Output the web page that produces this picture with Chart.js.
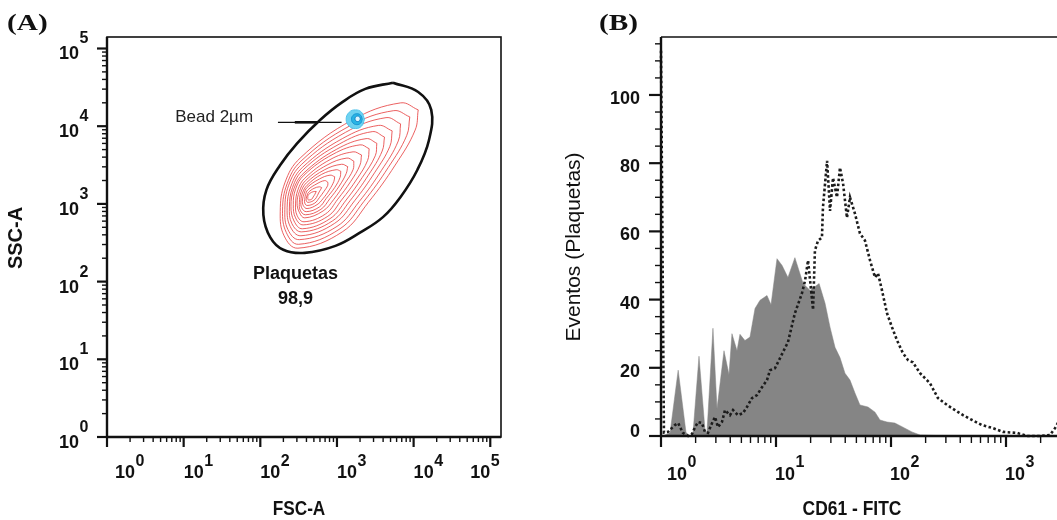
<!DOCTYPE html>
<html>
<head>
<meta charset="utf-8">
<script src="https://cdn.jsdelivr.net/npm/chart.js@4.4.0/dist/chart.umd.min.js"></script>
<style>
  html, body { margin: 0; padding: 0; background: #fff; overflow: hidden; width: 1057px; height: 520px; }
  canvas { position: absolute; top: 0; }
  .tag { position: absolute; top: 10px; font: bold 24px "Liberation Serif", "Times New Roman", serif;
         line-height: 1; color: #111; transform: scaleX(1.22); transform-origin: 0 0; }
</style>
</head>
<body>
<canvas id="scatter" width="530" height="520" style="left:0"></canvas>
<canvas id="hist" width="540" height="520" style="left:530px"></canvas>
<div class="tag" style="left:7px">(A)</div>
<div class="tag" style="left:599px">(B)</div>
<script>
// ---------- (A) FSC-A / SSC-A contour plot, values in log10 units ----------
const decadesA = [0, 1, 2, 3, 4, 5];

// black gate "Plaquetas"
const gateFSC = [3.73, 4.06, 4.23, 4.20, 4.05, 3.83, 3.60, 3.30, 2.98, 2.58, 2.30, 2.13, 2.04, 2.08, 2.26, 2.48, 2.78, 3.07, 3.37];
const gateSSC = [4.56, 4.44, 4.21, 3.82, 3.44, 3.09, 2.83, 2.63, 2.46, 2.37, 2.41, 2.57, 2.86, 3.18, 3.50, 3.78, 4.08, 4.31, 4.48];

// red density contours, outermost first
const plateletContours = [
  [[4.06,4.21],[3.83,4.30],[3.20,4.08],[2.52,3.59],[2.32,3.27],[2.26,2.90],[2.31,2.59],[2.49,2.43],[3.07,2.64],[3.41,3.02],[3.76,3.50],[4.02,3.95]],
  [[3.95,4.12],[3.74,4.20],[3.16,4.00],[2.53,3.55],[2.35,3.26],[2.29,2.92],[2.34,2.63],[2.50,2.48],[3.04,2.68],[3.35,3.03],[3.67,3.47],[3.91,3.88]],
  [[3.83,4.03],[3.64,4.11],[3.11,3.92],[2.54,3.51],[2.37,3.24],[2.32,2.93],[2.36,2.67],[2.51,2.54],[3.00,2.71],[3.29,3.03],[3.58,3.43],[3.80,3.81]],
  [[3.72,3.94],[3.54,4.01],[3.07,3.84],[2.55,3.47],[2.40,3.23],[2.35,2.95],[2.39,2.71],[2.53,2.59],[2.97,2.75],[3.23,3.04],[3.49,3.40],[3.69,3.74]],
  [[3.62,3.86],[3.46,3.93],[3.03,3.77],[2.56,3.44],[2.42,3.21],[2.38,2.96],[2.41,2.75],[2.54,2.64],[2.94,2.78],[3.17,3.04],[3.41,3.37],[3.59,3.68]],
  [[3.52,3.78],[3.38,3.84],[2.99,3.70],[2.57,3.40],[2.44,3.20],[2.40,2.97],[2.44,2.78],[2.55,2.68],[2.91,2.81],[3.12,3.05],[3.33,3.34],[3.50,3.62]],
  [[3.42,3.71],[3.30,3.76],[2.95,3.64],[2.57,3.37],[2.46,3.19],[2.43,2.99],[2.46,2.82],[2.56,2.73],[2.88,2.84],[3.06,3.05],[3.26,3.32],[3.40,3.56]],
  [[3.32,3.63],[3.21,3.67],[2.91,3.57],[2.58,3.33],[2.49,3.18],[2.46,3.00],[2.48,2.85],[2.57,2.77],[2.85,2.87],[3.01,3.06],[3.18,3.29],[3.30,3.50]],
  [[3.22,3.55],[3.13,3.59],[2.87,3.50],[2.59,3.30],[2.51,3.16],[2.48,3.01],[2.51,2.89],[2.58,2.82],[2.82,2.91],[2.96,3.06],[3.10,3.26],[3.21,3.44]],
  [[3.14,3.48],[3.06,3.51],[2.84,3.44],[2.60,3.27],[2.53,3.15],[2.51,3.02],[2.52,2.92],[2.59,2.86],[2.79,2.93],[2.91,3.07],[3.03,3.23],[3.12,3.39]],
  [[3.05,3.42],[2.99,3.44],[2.80,3.38],[2.61,3.24],[2.55,3.14],[2.53,3.04],[2.54,2.95],[2.60,2.90],[2.77,2.96],[2.86,3.07],[2.97,3.21],[3.04,3.34]],
  [[2.97,3.35],[2.91,3.37],[2.77,3.32],[2.61,3.21],[2.57,3.13],[2.55,3.05],[2.56,2.98],[2.61,2.94],[2.74,2.99],[2.82,3.07],[2.90,3.18],[2.96,3.29]],
  [[2.88,3.28],[2.84,3.30],[2.74,3.26],[2.62,3.18],[2.59,3.12],[2.58,3.06],[2.58,3.01],[2.61,2.98],[2.71,3.01],[2.77,3.08],[2.83,3.16],[2.88,3.24]],
  [[2.80,3.21],[2.77,3.22],[2.70,3.20],[2.63,3.15],[2.61,3.11],[2.60,3.07],[2.60,3.04],[2.62,3.02],[2.69,3.04],[2.73,3.08],[2.76,3.14],[2.79,3.19]],
  [[2.73,3.16],[2.71,3.16],[2.67,3.15],[2.63,3.12],[2.62,3.10],[2.62,3.08],[2.62,3.06],[2.63,3.05],[2.67,3.06],[2.69,3.09],[2.71,3.12],[2.72,3.14]]
];

// cyan 2 µm bead population, outer ring first
const beadContours = [
  [[3.36,4.09],[3.32,4.18],[3.24,4.21],[3.16,4.18],[3.12,4.09],[3.16,4.00],[3.24,3.97],[3.32,4.00]],
  [[3.33,4.09],[3.31,4.14],[3.26,4.16],[3.21,4.14],[3.19,4.09],[3.21,4.04],[3.26,4.02],[3.31,4.04]],
  [[3.305,4.095],[3.295,4.12],[3.27,4.13],[3.245,4.12],[3.235,4.095],[3.245,4.07],[3.27,4.06],[3.295,4.07]]
];

// ---------- (B) CD61-FITC histogram ----------
const decadesB = [0, 1, 2, 3];
const countTicks = [0, 20, 40, 60, 80, 100];

// filled grey: control
const isoFluor = [1.04,1.20,1.41,1.65,1.79,1.90,2.14,2.41,2.51,2.83,3.07,3.53,3.90,4.14,4.58,4.86,5.37,5.94,6.57,7.26,8.35,9.05,10.2,11.3,12.7,14.6,17.2,19.8,23.7,26.7,29.5,32.6,36.0,39.8,44.0,48.6,53.7,63.1,72.6,80.2,92.3,108,127,152,179,326,3162];
const isoCount = [0,1,19.3,1,0,1,23.4,2,1,31.6,8,25,18,30,25,29.8,28,29,37.4,39.8,41.2,38.5,52,50,46.5,52.3,44.7,42.7,44.7,38.9,31.9,26,23,18.4,16.4,12.6,9.1,8.5,7,4.7,4.1,3.8,2.6,1.2,0.3,0,0];

// dotted: CD61 stained platelets
const cd61Fluor = [1.00,1.06,1.15,1.32,1.41,1.55,1.72,1.86,1.98,2.10,2.27,2.41,2.56,2.78,2.95,3.13,3.39,3.60,3.98,4.23,4.67,5.16,5.59,6.18,6.84,7.55,8.35,8.87,9.80,10.4,11.5,12.7,14.6,16.8,17.9,19.0,21.0,21.8,23.2,25.1,25.6,27.8,29.5,31.3,33.9,36.0,38.3,41.4,44.0,48.6,53.7,59.4,65.7,72.6,77.1,83.5,92.3,102,113,127,141,155,179,218,256,307,360,423,506,618,771,942,1247,1523,1976,2414,2667,3070];
const cd61Count = [113,1,1.2,3.2,3.8,0.9,0,0.6,2.6,4.1,3.8,1.2,0.9,3.8,5.6,2.6,4.1,7.6,6.1,7.6,6.1,6.7,8.5,11.1,12,14.3,16.4,19.3,19.9,21.6,24.6,27.5,36,41.8,45.6,51.5,37,54.4,57.3,58.2,67,80.7,66,75.7,70,78.7,74,64,70,65.2,59.4,57.3,51.5,46.5,47.7,42.7,36,31.9,28,24.3,22.2,21.6,18.4,15.5,11.1,9.1,7.6,6.1,4.7,3.2,2.3,1.2,0.9,0,0,0.3,2.3,6];

// ---------- helpers ----------
const SANS = '"Liberation Sans", Arial, Helvetica, sans-serif';
const INK = '#111';
const minorSteps = [2, 3, 4, 5, 6, 7, 8, 9];

const zip = (xs, ys) => xs.map((x, i) => ({ x, y: ys[i] }));
const ring = pts => pts.concat([pts[0]]).map(([x, y]) => ({ x, y }));

function seg(ctx, x1, y1, x2, y2, w) {
  ctx.lineWidth = w;
  ctx.beginPath(); ctx.moveTo(x1, y1); ctx.lineTo(x2, y2); ctx.stroke();
}

// text centred on its cap height; sx squeezes horizontally
function label(ctx, s, x, y, size, weight, align, sx, rot) {
  ctx.save();
  ctx.translate(x, y);
  if (rot) ctx.rotate(rot);
  ctx.scale(sx || 1, 1);
  ctx.font = `${weight} ${size}px ${SANS}`;
  ctx.textAlign = align;
  ctx.textBaseline = 'alphabetic';
  ctx.fillText(s, 0, size * 0.358);
  ctx.restore();
}

// "10" with raised exponent; left = x position of the "10"
function power(ctx, exp, left, base, rise) {
  ctx.textAlign = 'left';
  ctx.textBaseline = 'alphabetic';
  ctx.font = `bold 18px ${SANS}`;
  const w = ctx.measureText('10').width;
  ctx.fillText('10', left, base);
  ctx.font = `bold 16px ${SANS}`;
  ctx.fillText(String(exp), left + w + 0.5, base - rise);
}
function powerWidths(ctx, exp) {
  ctx.font = `bold 18px ${SANS}`;
  const a = ctx.measureText('10').width;
  ctx.font = `bold 16px ${SANS}`;
  return [a, ctx.measureText(String(exp)).width];
}

const baseOpts = (pad, xs, ys) => ({
  responsive: false,
  animation: false,
  events: [],
  layout: { padding: pad },
  plugins: { legend: { display: false }, tooltip: { enabled: false } },
  elements: { point: { radius: 0 } },
  scales: { x: xs, y: ys }
});

// ---------- (A) ----------
const notesA = {
  bead: { text: 'Bead 2\u00b5m', x: 0.89, y: 4.13 },
  leader: { x1: 2.23, x2: 3.06, y: 4.05, thickFrom: 2.45, thickTo: 2.75 },
  gate: { name: 'Plaquetas', value: '98,9', x: 2.46, y1: 2.12, y2: 1.80 }
};

const axesA = {
  id: 'axesA',
  afterDatasetsDraw(chart) {
    const { ctx, chartArea: a, scales: { x, y } } = chart;
    ctx.save();
    ctx.strokeStyle = INK; ctx.fillStyle = INK;
    ctx.lineWidth = 1.6;
    ctx.strokeRect(a.left, a.top, a.right - a.left, a.bottom - a.top);
    seg(ctx, a.left, a.top, a.left, a.bottom + 1, 2.4);
    seg(ctx, a.left - 1, a.bottom, a.right, a.bottom, 2.4);

    decadesA.forEach(n => {
      const px = x.getPixelForValue(n), py = y.getPixelForValue(n);
      seg(ctx, px, a.bottom, px, a.bottom + 10, 2.2);
      seg(ctx, a.left - 10, py, a.left, py, 2.2);
      minorSteps.forEach(k => {
        const v = n + Math.log10(k);
        if (v <= x.max) { const mx = x.getPixelForValue(v); seg(ctx, mx, a.bottom, mx, a.bottom + 5, 1.4); }
        if (v <= y.max) { const my = y.getPixelForValue(v); seg(ctx, a.left - 5, my, a.left, my, 1.4); }
      });
      // tick labels
      const [wb, we] = powerWidths(ctx, n);
      let lx = px;
      if (n === decadesA[0]) lx = px + 8;
      if (n === decadesA[decadesA.length - 1]) lx = px - wb;
      power(ctx, n, lx, a.bottom + 41, 12);
      power(ctx, n, a.left - 19 - wb - we, py + 11, 16);
    });

    label(ctx, 'SSC-A', 15, 238, 20, 'bold', 'center', 1, -Math.PI / 2);
    label(ctx, 'FSC-A', 299, 507, 21, 'bold', 'center', 0.82);

    // annotations
    const b = notesA.bead;
    ctx.font = `17px ${SANS}`; ctx.textAlign = 'left'; ctx.fillStyle = '#222';
    ctx.fillText(b.text, x.getPixelForValue(b.x), y.getPixelForValue(b.y) + 6);
    const l = notesA.leader, ly = y.getPixelForValue(l.y);
    ctx.strokeStyle = '#111';
    seg(ctx, x.getPixelForValue(l.x1), ly, x.getPixelForValue(l.x2), ly, 1.3);
    seg(ctx, x.getPixelForValue(l.thickFrom), ly, x.getPixelForValue(l.thickTo), ly, 2.6);
    const g = notesA.gate, gx = x.getPixelForValue(g.x);
    ctx.fillStyle = INK;
    label(ctx, g.name, gx, y.getPixelForValue(g.y1), 18, 'bold', 'center');
    label(ctx, g.value, gx, y.getPixelForValue(g.y2), 18, 'bold', 'center');
    ctx.restore();
  }
};

// higher "order" is drawn first (underneath)
const datasetsA = [
  ...plateletContours.map(r => ({
    data: ring(r), order: 10, showLine: true, tension: 0.4, fill: false,
    borderColor: 'rgba(230,58,58,0.8)', borderWidth: 1, pointRadius: 0
  })),
  ...beadContours.map((r, i) => ({
    data: ring(r), order: 5 - i, showLine: true, tension: 0.45, fill: 'shape',
    backgroundColor: ['rgb(110,210,240)', 'rgb(40,180,228)', 'rgb(220,246,255)'][i],
    borderColor: ['rgb(80,195,235)', 'rgb(25,150,212)', 'rgb(20,130,200)'][i],
    borderWidth: 1, pointRadius: 0
  })),
  {
    data: ring(gateFSC.map((v, i) => [v, gateSSC[i]])), order: 1, showLine: true, tension: 0.4, fill: false,
    borderColor: '#111', borderWidth: 2.6, pointRadius: 0
  }
];

new Chart(document.getElementById('scatter'), {
  type: 'scatter',
  data: { datasets: datasetsA },
  options: baseOpts({ left: 107, top: 37, right: 29, bottom: 83 },
    { type: 'linear', display: false, min: 0, max: 5.14 },
    { type: 'linear', display: false, min: 0, max: 5.148 }),
  plugins: [axesA]
});

// ---------- (B) ----------
const axesB = {
  id: 'axesB',
  afterDatasetsDraw(chart) {
    const { ctx, chartArea: a, scales: { x, y } } = chart;
    ctx.save();
    ctx.strokeStyle = INK; ctx.fillStyle = INK;
    seg(ctx, a.left, a.top, a.right, a.top, 1.6);
    seg(ctx, a.right, a.top, a.right, a.bottom, 1.6);
    seg(ctx, a.left, a.top, a.left, a.bottom + 1, 2.4);
    seg(ctx, a.left - 1, a.bottom, a.right, a.bottom, 2.4);

    decadesB.forEach(n => {
      const d = Math.pow(10, n), px = x.getPixelForValue(d);
      seg(ctx, px, a.bottom, px, a.bottom + 11, 2.2);
      minorSteps.forEach(k => {
        if (k * d <= x.max) { const mx = x.getPixelForValue(k * d); seg(ctx, mx, a.bottom, mx, a.bottom + 7, 1.4); }
      });
      power(ctx, n, n === decadesB[0] ? px + 6 : px - 1, a.bottom + 44, 13);
    });
    for (let v = 0; v <= y.max; v += 5) {
      const py = y.getPixelForValue(v), major = countTicks.includes(v);
      seg(ctx, a.left - (major ? 12 : 6), py, a.left, py, major ? 2.2 : 1.4);
    }
    ctx.font = `bold 18px ${SANS}`; ctx.textAlign = 'right'; ctx.textBaseline = 'alphabetic';
    countTicks.forEach(v => {
      const py = y.getPixelForValue(v);
      ctx.fillText(String(v), a.left - 21, py + (v === 0 ? 1 : 9));
    });

    label(ctx, 'Eventos (Plaquetas)', 42, 247, 21, 'normal', 'center', 1, -Math.PI / 2);
    label(ctx, 'CD61 - FITC', 322, 507, 21, 'bold', 'center', 0.83);
    ctx.restore();
  }
};

new Chart(document.getElementById('hist'), {
  type: 'scatter',
  data: {
    datasets: [
      {
        data: zip(isoFluor, isoCount), order: 2, showLine: true, tension: 0, fill: 'origin',
        backgroundColor: '#858585', borderColor: '#858585', borderWidth: 0.5, pointRadius: 0
      },
      {
        data: zip(cd61Fluor, cd61Count), order: 1, showLine: true, tension: 0, fill: false, clip: 4,
        borderColor: '#1c1c1c', borderWidth: 2.6, borderDash: [2.6, 2.4], pointRadius: 0
      }
    ]
  },
  options: baseOpts({ left: 131, top: 37, right: 6.5, bottom: 84 },
    { type: 'logarithmic', display: false, min: 1, max: 3162 },
    { type: 'linear', display: false, min: 0, max: 117 }),
  plugins: [axesB]
});
</script>
</body>
</html>
